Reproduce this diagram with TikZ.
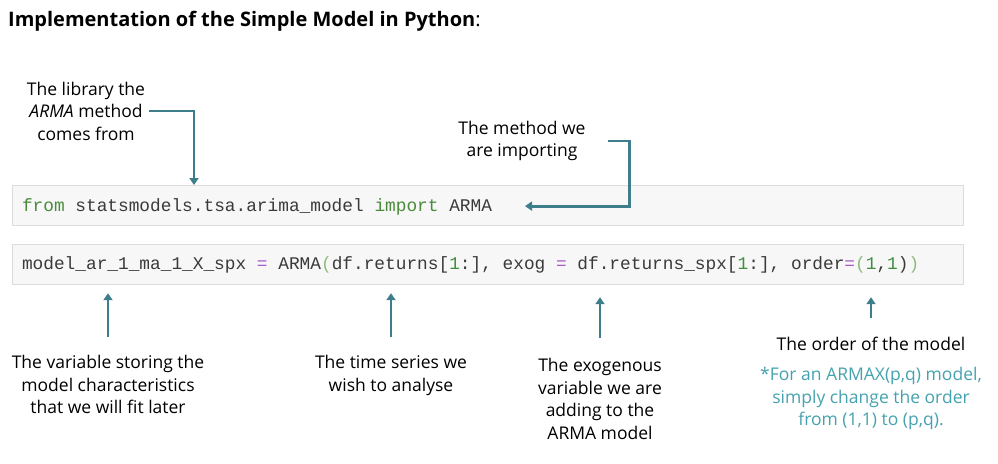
\documentclass[tikz,border=0pt]{standalone}
\usepackage{fontspec}
\setmainfont{Open Sans}
\newfontfamily\codefont{Liberation Mono}
\usetikzlibrary{arrows.meta, positioning}

\definecolor{arrowteal}{HTML}{3D7E8A}
\definecolor{notecol}{HTML}{45A2AE}
\definecolor{codebg}{HTML}{F7F7F7}
\definecolor{codeline}{HTML}{DCDCDC}
\definecolor{codetxt}{HTML}{3A3A3A}
\definecolor{kwgreen}{HTML}{4A8A3A}
\definecolor{numgreen}{HTML}{3E8E3E}
\definecolor{parlight}{HTML}{8DBB7E}
\definecolor{oppurple}{HTML}{A65FCB}

\newcommand{\kwc}[1]{\textcolor{kwgreen}{#1}}
\newcommand{\numc}[1]{\textcolor{numgreen}{#1}}
\newcommand{\opc}[1]{\textcolor{oppurple}{#1}}
\newcommand{\parc}[1]{\textcolor{parlight}{#1}}

\begin{document}
\begin{tikzpicture}[
  x=1pt, y=-1pt,
  label/.style={align=center, inner sep=0pt, font=\fontsize{17.5}{22.5}\selectfont},
  codebox/.style={rectangle, draw=codeline, fill=codebg, line width=1.2pt, anchor=north west, minimum width=951pt, minimum height=40pt, inner sep=0pt},
  tok/.style={inner sep=0pt, outer sep=0pt, text=codetxt, font=\codefont\fontsize{17.8}{20}\selectfont},
  pointer/.style={draw=arrowteal, line width=2.8pt, -{Triangle[width=9pt,length=7pt]}},
]
  \useasboundingbox (0,0) rectangle (998,463);

  % ── Title ─────────────────────────────────
  \node[anchor=west, inner sep=0pt, font=\fontsize{20}{24}\selectfont] (title) at (8,21)
    {\textbf{Implementation of the Simple Model in Python}:};

  % ── Code cells ────────────────────────────
  \node[codebox] (codeone) at (12,185) {};
  \node[codebox] (codetwo) at (12,244) {};

  \node[tok, anchor=west] (kwfrom) at ([xshift=10pt]codeone.west) {\kwc{from}};
  \node[tok, base right=0pt of kwfrom] (libname) {\ statsmodels.tsa.arima\_model};
  \node[tok, base right=0pt of libname] (kwimport) {\ \kwc{import}};
  \node[tok, base right=0pt of kwimport] (armaname) {\ ARMA};

  \node[tok, anchor=west] (modelcall) at ([xshift=10pt]codetwo.west)
    {model\_ar\_1\_ma\_1\_X\_spx\ \opc{=}\ ARMA\parc{(}df.returns[\numc{1}:],\ exog\ \opc{=}\ df.returns\_spx[\numc{1}:],\ order\opc{=}\parc{(}\numc{1},\numc{1})\parc{)}};

  % ── Labels above ──────────────────────────
  \node[label] (liblbl) at (86,111) {The library the\\\textit{ARMA} method\\comes from};
  \node[label] (methlbl) at (522,141) {The method we\\are importing};

  % ── Labels below ──────────────────────────
  \node[label, anchor=north] (varlbl) at (108,355) {The variable storing the\\model characteristics\\that we will fit later};
  \node[label, anchor=north] (serieslbl) at (391,355) {The time series we\\wish to analyse};
  \node[label, anchor=north] (exolbl) at (600,358) {The exogenous\\variable we are\\adding to the\\ARMA model};
  \node[label, anchor=north] (orderlbl) at (871,337) {The order of the model};
  \node[label, anchor=north, text=notecol] (notelbl) at (871,367) {*For an ARMAX(p,q) model,\\simply change the order\\from (1,1) to (p,q).};

  % ── Pointers ──────────────────────────────
  \draw[pointer] ([xshift=4pt]liblbl.east) -| ([xshift=182pt]codeone.north west);
  \draw[pointer, shorten <=22pt] (methlbl.east) -- ++(44,0) |- ([xshift=33pt]armaname.east);
  \draw[pointer, shorten <=18pt, shorten >=8pt] (varlbl.north) -- (varlbl.north |- codetwo.south);
  \draw[pointer, shorten <=18pt, shorten >=8pt] (serieslbl.north) -- (serieslbl.north |- codetwo.south);
  \draw[pointer, shorten <=20pt, shorten >=12pt] (exolbl.north) -- (exolbl.north |- codetwo.south);
  \draw[pointer, shorten <=19pt, shorten >=12pt] (orderlbl.north) -- (orderlbl.north |- codetwo.south);

\end{tikzpicture}
\end{document}
